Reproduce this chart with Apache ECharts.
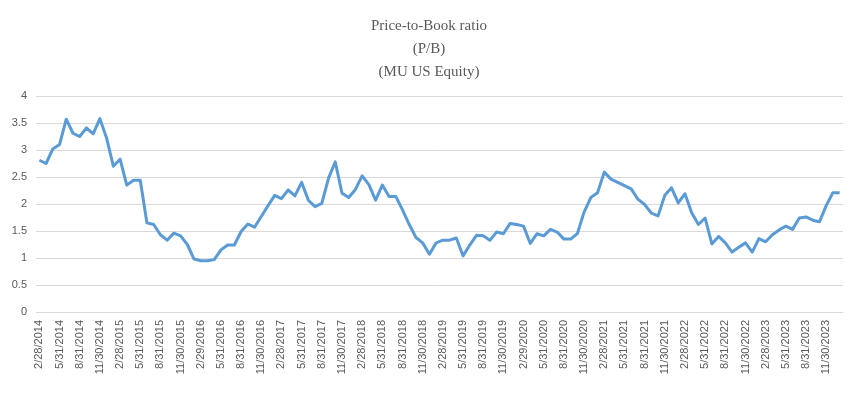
<!DOCTYPE html>
<html>
<head>
<meta charset="utf-8">
<title>Price-to-Book ratio</title>
<script src="https://cdn.jsdelivr.net/npm/echarts@6/dist/echarts.min.js"></script>
<style>
  html, body { margin: 0; padding: 0; background: #fff; }
  #chart { width: 858px; height: 396px; }
</style>
</head>
<body>
<div id="chart"></div>
<script>
// monthly P/B values, 2/2014 .. 1/2024
var pbValues = [
  2.81, 2.75, 3.02, 3.10, 3.57, 3.31, 3.25, 3.41, 3.30, 3.58, 3.22, 2.70,
  2.83, 2.35, 2.44, 2.44, 1.65, 1.62, 1.43, 1.33, 1.46, 1.41, 1.25, 0.98,
  0.95, 0.95, 0.97, 1.15, 1.24, 1.24, 1.49, 1.63, 1.57, 1.77, 1.97, 2.16,
  2.10, 2.26, 2.15, 2.40, 2.07, 1.95, 2.01, 2.48, 2.78, 2.20, 2.12, 2.27,
  2.52, 2.36, 2.07, 2.35, 2.14, 2.14, 1.89, 1.62, 1.38, 1.28, 1.07, 1.28,
  1.33, 1.33, 1.37, 1.04, 1.24, 1.42, 1.41, 1.33, 1.48, 1.45, 1.64, 1.62,
  1.59, 1.27, 1.45, 1.41, 1.53, 1.48, 1.35, 1.35, 1.45, 1.85, 2.12, 2.21,
  2.59, 2.46, 2.40, 2.34, 2.28, 2.09, 1.99, 1.83, 1.78, 2.16, 2.30, 2.02,
  2.19, 1.84, 1.62, 1.74, 1.26, 1.40, 1.28, 1.11, 1.20, 1.28, 1.11, 1.36,
  1.30, 1.43, 1.52, 1.59, 1.53, 1.74, 1.76, 1.70, 1.67, 1.97, 2.21, 2.21
];
var startYear = 2014, startMonth = 2;
var yTicks = [0, 0.5, 1, 1.5, 2, 2.5, 3, 3.5, 4];
var titleLines = ['Price-to-Book ratio', '(P/B)', '(MU US Equity)'];

// month-end dates as category labels (M/D/YYYY)
var dates = [];
for (var i = 0; i < pbValues.length; i++) {
  var m = startMonth - 1 + i;
  var y = startYear + Math.floor(m / 12);
  var mm = m % 12 + 1;
  var last = new Date(y, mm, 0).getDate();
  dates.push(mm + '/' + last + '/' + y);
}

var chart = echarts.init(document.getElementById('chart'));
var option = {
  backgroundColor: '#ffffff',
  animation: false,
  title: {
    text: titleLines.join('\n'),
    left: 'center',
    top: 10,
    textStyle: {
      fontFamily: 'Liberation Serif',
      fontSize: 15,
      fontWeight: 'normal',
      color: '#595959',
      lineHeight: 23
    }
  },
  grid: { left: 36, right: 15, top: 96, bottom: 84 },
  xAxis: {
    type: 'category',
    data: dates,
    boundaryGap: true,
    axisLine: { lineStyle: { color: '#d9d9d9', width: 1 } },
    axisTick: { show: false },
    axisLabel: {
      interval: 2,
      rotate: 90,
      margin: 8,
      fontSize: 11,
      fontFamily: 'Liberation Sans',
      color: '#595959'
    }
  },
  yAxis: {
    type: 'value',
    min: 0,
    max: 4,
    interval: 0.5,
    axisLine: { show: false },
    axisTick: { show: false },
    splitLine: { lineStyle: { color: '#d9d9d9', width: 1 } },
    axisLabel: {
      margin: 9,
      fontSize: 11,
      fontFamily: 'Liberation Sans',
      color: '#595959',
      formatter: function (v) { return yTicks.indexOf(v) >= 0 ? String(v) : ''; }
    }
  },
  series: [{
    name: 'P/B',
    type: 'line',
    data: pbValues,
    showSymbol: false,
    lineStyle: { color: '#5b9bd5', width: 3, join: 'round' },
    itemStyle: { color: '#5b9bd5' }
  }]
};
chart.setOption(option);
</script>
</body>
</html>
